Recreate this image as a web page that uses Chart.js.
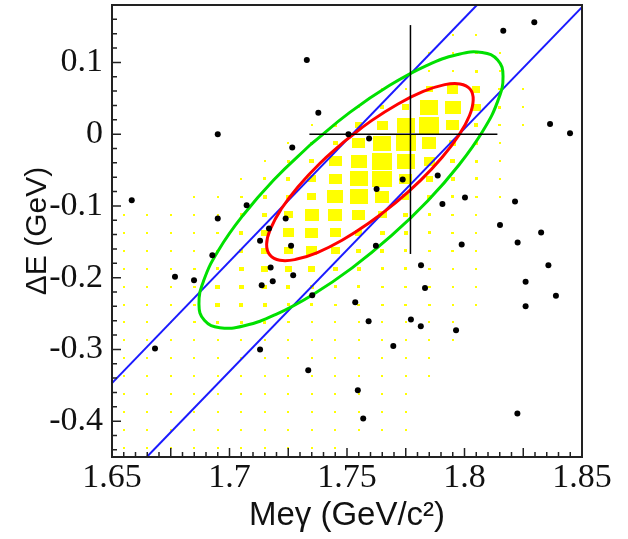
<!DOCTYPE html>
<html>
<head>
<meta charset="utf-8">
<script src="https://cdn.jsdelivr.net/npm/chart.js@4.4.1/dist/chart.umd.min.js"></script>
<style>
  html, body { margin: 0; padding: 0; background: #fff; }
  #wrapper { width: 628px; height: 539px; }
</style>
</head>
<body>
<div id="wrapper"><canvas id="canvasMitte"></canvas></div>
<script>
// Beschriftete Ticks
const xTicks = [1.65, 1.7, 1.75, 1.8, 1.85];
const yTicks = [-0.4, -0.3, -0.2, -0.1, 0, 0.1];

// Histogramm: Bin-Mitten und Inhalt (Zeilen von oben nach unten)
const binMitteX = [1.655, 1.665, 1.675, 1.685, 1.695, 1.705, 1.715, 1.725, 1.735, 1.745,
                   1.755, 1.765, 1.775, 1.785, 1.795, 1.805, 1.815, 1.825, 1.835, 1.845];
const binMitteY = [0.1625, 0.1375, 0.1125, 0.0875, 0.0625, 0.0375, 0.0125, -0.0125, -0.0375,
                   -0.0625, -0.0875, -0.1125, -0.1375, -0.1625, -0.1875, -0.2125, -0.2375,
                   -0.2625, -0.2875, -0.3125, -0.3375, -0.3625, -0.3875, -0.4125, -0.4375];
const binInhalt = [
  [0,0,0,0,0,0,0,0,0,0,0,0,0,0,0,0,0,0,0,0],
  [0,0,0,0,0,0,0,0,0,0,0,0,0,0,1,1,0,0,0,0],
  [0,0,0,0,0,0,0,0,0,0,0,0,0,1,1,2,1,0,0,0],
  [0,0,0,0,0,0,0,0,0,0,0,0,0,1,1,3,1,0,0,0],
  [0,0,0,0,0,0,0,0,0,0,0,1,1,13,29,16,2,1,0,0],
  [0,0,0,0,0,0,0,0,0,0,1,5,13,81,66,20,3,1,0,0],
  [0,0,0,0,0,0,0,0,1,3,13,29,81,100,40,5,2,1,0,0],
  [0,0,0,0,0,0,0,1,3,7,40,81,98,52,13,3,1,0,0,0],
  [0,0,0,0,0,0,1,3,7,40,66,100,81,29,7,3,1,0,0,0],
  [0,0,0,0,0,1,3,5,20,40,81,98,40,13,5,3,1,0,0,0],
  [0,0,0,1,1,2,5,7,20,66,81,52,13,7,3,2,1,0,0,0],
  [1,1,1,1,1,3,7,20,52,52,40,20,7,3,2,1,0,0,0,0],
  [1,1,1,1,2,5,13,29,40,29,13,7,5,3,2,1,0,0,0,0],
  [1,1,1,1,2,5,13,20,29,20,7,5,3,2,2,1,0,0,0,0],
  [1,1,1,2,3,7,13,13,13,7,5,3,3,2,1,1,0,0,0,0],
  [1,1,1,2,7,7,7,5,5,3,3,2,2,2,1,1,0,0,0,0],
  [1,1,1,2,7,5,5,3,3,2,2,2,2,2,1,1,0,0,0,0],
  [1,1,1,2,3,3,3,2,1,1,1,1,1,1,1,0,0,0,0,0],
  [1,1,1,1,1,1,1,1,1,1,1,1,1,1,1,0,0,0,0,0],
  [1,1,1,1,1,1,1,1,1,1,1,1,1,1,0,0,0,0,0,0],
  [1,1,1,1,1,1,1,1,1,1,1,1,1,1,0,0,0,0,0,0],
  [1,1,1,1,1,1,1,1,1,1,1,1,1,0,0,0,0,0,0,0],
  [1,1,1,1,1,1,1,1,1,1,1,1,1,0,0,0,0,0,0,0],
  [1,1,1,1,1,1,1,1,1,1,1,1,1,0,0,0,0,0,0,0],
  [1,1,1,1,1,1,1,1,1,1,0,0,0,0,0,0,0,0,0,0]
];

// Ereignisse (schwarze Punkte)
const punkteX = [1.7329, 1.7378, 1.6950, 1.7267, 1.6584, 1.7073, 1.6950, 1.7239, 1.7168, 1.7130,
                 1.7262, 1.7506, 1.7594, 1.7626, 1.7737, 1.7886, 1.8002, 1.7906, 1.7623, 1.7988,
                 1.7815, 1.8165, 1.8297, 1.8364, 1.8449, 1.8215, 1.8151, 1.8326, 1.8226, 1.8357,
                 1.8260, 1.8389, 1.8260, 1.7832, 1.7535, 1.7592, 1.7772, 1.7814, 1.7964, 1.7697,
                 1.7546, 1.7569, 1.8225, 1.6927, 1.7175, 1.6768, 1.6849, 1.7137, 1.7184, 1.7271,
                 1.7352, 1.6683, 1.7130, 1.7335];
const punkteY = [0.1033, 0.0298, 0.0000, -0.0185, -0.0920, -0.0990, -0.1175, -0.1175, -0.1315, -0.1487,
                 -0.1557, 0.0000, -0.0060, -0.0766, -0.0631, -0.0575, -0.0882, -0.0975, -0.1557, -0.1538,
                 -0.1826, 0.1442, 0.1558, 0.0140, 0.0011, -0.0938, -0.1268, -0.1370, -0.1510, -0.1826,
                 -0.2059, -0.2254, -0.2398, -0.2143, -0.2342, -0.2607, -0.2584, -0.2677, -0.2733, -0.2952,
                 -0.3570, -0.3964, -0.3895, -0.1687, -0.1858, -0.1989, -0.2035, -0.2105, -0.2049, -0.1966,
                 -0.2245, -0.2988, -0.3003, -0.3290];

const rotX = [1.7489, 1.7603, 1.7717, 1.7822, 1.7912, 1.7981, 1.8024, 1.8037, 1.8021, 1.7976, 1.7905,
              1.7813, 1.7706, 1.7592, 1.7479, 1.7374, 1.7283, 1.7214, 1.7172, 1.7158, 1.7175, 1.7220,
              1.7291, 1.7383, 1.7489];
const rotY = [-0.0100, 0.0185, 0.0421, 0.0592, 0.0687, 0.0700, 0.0628, 0.0477, 0.0257, -0.0015, -0.0323,
              -0.0645, -0.0959, -0.1243, -0.1479, -0.1650, -0.1745, -0.1758, -0.1685, -0.1535, -0.1316, -0.1044,
              -0.0736, -0.0413, -0.0100];

const gruenX = [1.7345, 1.7512, 1.7680, 1.7836, 1.7971, 1.8075, 1.8141, 1.8164, 1.8143, 1.8080, 1.7978,
                1.7845, 1.7689, 1.7522, 1.7354, 1.7198, 1.7063, 1.6959, 1.6893, 1.6870, 1.6891, 1.6954,
                1.7056, 1.7189, 1.7345];
const gruenY = [-0.0144, 0.0303, 0.0677, 0.0952, 0.1110, 0.1138, 0.1034, 0.0808, 0.0474, 0.0054, -0.0423,
                -0.0925, -0.1416, -0.1864, -0.2238, -0.2512, -0.2670, -0.2698, -0.2595, -0.2369, -0.2034, -0.1614,
                -0.1137, -0.0635, -0.0144];

// Blaue Diagonalen
const blauObenX = [1.65, 1.8053];
const blauObenY = [-0.347, 0.18];
const blauUntenX = [1.6648, 1.85];
const blauUntenY = [-0.45, 0.177];

// Kreuz
const kreuzWaagX = [1.734, 1.814];
const kreuzWaagY = [0, 0];
const kreuzSenkX = [1.777, 1.777];
const kreuzSenkY = [-0.167, 0.152];

function zuPunkten(xs, ys) {
  return xs.map((x, i) => ({ x: x, y: ys[i] }));
}

function histogrammPunkte() {
  const liste = [];
  binInhalt.forEach((zeile, j) => {
    zeile.forEach((n, i) => {
      if (n > 0) {
        liste.push({ x: binMitteX[i], y: binMitteY[j], n: n });
      }
    });
  });
  return liste;
}

// Gelbe Kaestchen: Breite und Hoehe wachsen mit Wurzel(Inhalt), Zelle ist breiter als hoch
const kaestchenCache = {};
function kaestchen(n) {
  if (!kaestchenCache[n]) {
    const c = document.createElement("canvas");
    c.width = Math.max(1, Math.round(2.0 * Math.sqrt(n)));
    c.height = Math.max(1, Math.round(1.65 * Math.sqrt(n)));
    const g = c.getContext("2d");
    g.fillStyle = "#ffff00";
    g.fillRect(0, 0, c.width, c.height);
    kaestchenCache[n] = c;
  }
  return kaestchenCache[n];
}

function linie(daten, farbe, breite, reihenfolge, spannung) {
  return {
    data: daten,
    showLine: true,
    borderColor: farbe,
    borderWidth: breite,
    pointRadius: 0,
    tension: spannung || 0,
    fill: false,
    clip: 0,
    order: reihenfolge,
  };
}

// Rahmen und Ticks nach innen zeichnen
const rahmenPlugin = {
  id: "rahmen",
  afterDatasetsDraw(chart) {
    const { ctx, chartArea: a } = chart;
    const x = chart.scales.x;
    const y = chart.scales.y;
    ctx.save();
    ctx.strokeStyle = "#222";
    ctx.lineWidth = 1.5;
    ctx.beginPath();
    for (let k = 0; k <= 40; k++) {
      const px = x.getPixelForValue(1.65 + k * 0.005);
      const lang = k % 5 === 0 ? 9 : 5;
      ctx.moveTo(px, a.bottom);
      ctx.lineTo(px, a.bottom - lang);
    }
    for (let k = -22; k <= 8; k++) {
      const py = y.getPixelForValue(k * 0.02);
      const lang = k % 5 === 0 ? 9 : 5;
      ctx.moveTo(a.left, py);
      ctx.lineTo(a.left + lang, py);
    }
    ctx.stroke();
    ctx.lineWidth = 2;
    ctx.strokeRect(a.left, a.top, a.right - a.left, a.bottom - a.top);
    ctx.restore();
  },
};

function erstelleStreuDiagramm() {
  const canvas = document.getElementById("canvasMitte").getContext("2d");
  const tickFont = { family: "'Liberation Serif', 'Times New Roman', serif", size: 34 };
  const titelFont = { family: "'Liberation Sans', Arial, sans-serif" };

  return new Chart(canvas, {
    type: "scatter",
    data: {
      datasets: [
        {
          data: zuPunkten(punkteX, punkteY),
          backgroundColor: "#000",
          borderWidth: 0,
          pointRadius: 3,
          order: 0,
        },
        linie(zuPunkten(kreuzWaagX, kreuzWaagY), "#000", 1.5, 1),
        linie(zuPunkten(kreuzSenkX, kreuzSenkY), "#000", 1.5, 1),
        linie(zuPunkten(rotX, rotY), "#ff0000", 3, 2, 0.45),
        linie(zuPunkten(gruenX, gruenY), "#00e000", 3, 3, 0.45),
        linie(zuPunkten(blauObenX, blauObenY), "#1a1aff", 2, 4),
        linie(zuPunkten(blauUntenX, blauUntenY), "#1a1aff", 2, 4),
        {
          data: histogrammPunkte(),
          pointStyle: (c) => kaestchen(c.raw.n),
          pointRadius: 3,
          borderWidth: 0,
          order: 5,
        },
      ],
    },
    options: {
      animation: false,
      responsive: true,
      maintainAspectRatio: false,
      layout: {
        padding: { top: 5, right: 46, left: 0, bottom: 0 },
      },
      plugins: {
        legend: { display: false },
        tooltip: { enabled: false },
      },
      scales: {
        x: {
          type: "linear",
          min: 1.65,
          max: 1.85,
          afterBuildTicks: (s) => { s.ticks = xTicks.map((v) => ({ value: v })); },
          afterFit: (s) => {
            s.height = 82;
            s.paddingLeft = 0;
            s.paddingRight = 0;
          },
          grid: { display: false, drawTicks: false },
          border: { display: false },
          ticks: {
            font: tickFont,
            color: "#111",
            padding: 1,
            maxRotation: 0,
            autoSkip: false,
            callback: (v) => String(+v.toFixed(2)),
          },
          title: {
            display: true,
            text: "Meγ (GeV/c²)",
            color: "#111",
            font: Object.assign({ size: 33 }, titelFont),
            padding: { top: 0, bottom: 3 },
          },
        },
        y: {
          type: "linear",
          min: -0.45,
          max: 0.18,
          afterBuildTicks: (s) => { s.ticks = yTicks.map((v) => ({ value: v })); },
          afterFit: (s) => {
            s.width = 112;
            s.paddingTop = 0;
            s.paddingBottom = 0;
          },
          grid: { display: false, drawTicks: false },
          border: { display: false },
          ticks: {
            font: tickFont,
            color: "#111",
            padding: 9,
            autoSkip: false,
            callback: (v) => String(+v.toFixed(2)),
          },
          title: {
            display: true,
            text: "ΔE (GeV)",
            color: "#111",
            font: Object.assign({ size: 30 }, titelFont),
            padding: { top: 20, bottom: 0 },
          },
        },
      },
    },
    plugins: [rahmenPlugin],
  });
}

window.chartMitte = erstelleStreuDiagramm();
</script>
</body>
</html>
